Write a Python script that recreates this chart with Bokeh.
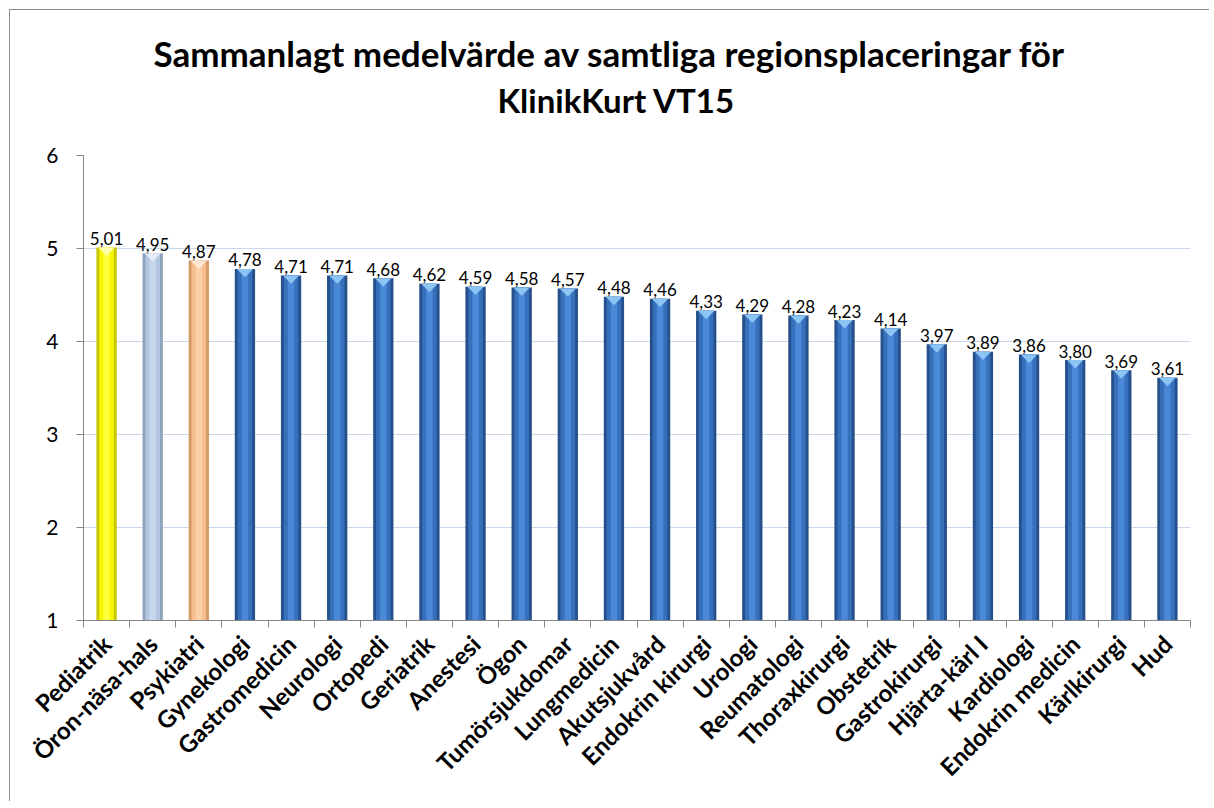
from bokeh.plotting import figure
from bokeh.models import FixedTicker, Range1d, Title, ColumnDataSource
from bokeh.core.properties import value
from bokeh.embed import file_html
from bokeh.resources import INLINE
import math

categories = ["Pediatrik", "Öron-näsa-hals", "Psykiatri", "Gynekologi", "Gastromedicin",
              "Neurologi", "Ortopedi", "Geriatrik", "Anestesi", "Ögon", "Tumörsjukdomar",
              "Lungmedicin", "Akutsjukvård", "Endokrin kirurgi", "Urologi", "Reumatologi",
              "Thoraxkirurgi", "Obstetrik", "Gastrokirurgi", "Hjärta-kärl I", "Kardiologi",
              "Endokrin medicin", "Kärlkirurgi", "Hud"]
values = [5.01, 4.95, 4.87, 4.78, 4.71, 4.71, 4.68, 4.62, 4.59, 4.58, 4.57, 4.48,
          4.46, 4.33, 4.29, 4.28, 4.23, 4.14, 3.97, 3.89, 3.86, 3.80, 3.69, 3.61]
y_ticks = [1, 2, 3, 4, 5, 6]
title_line1 = "Sammanlagt medelvärde av samtliga regionsplaceringar för"
title_line2 = "KlinikKurt VT15"

FONT = "Lato"
n = len(categories)
xs = [i + 0.5 for i in range(n)]
labels = [f"{v:.2f}".replace(".", ",") for v in values]

edge = ["#c9c400", "#8fa3bd", "#d39a68"] + ["#26508c"] * (n - 3)
base = ["#f5f500", "#b3c7e0", "#f7bd8d"] + ["#3670bb"] * (n - 3)
high = ["#ffff3a", "#c8d8ec", "#fbd0a8"] + ["#4a88d8"] * (n - 3)
cap = ["#ffffb0", "#e4edf8", "#fde6d2"] + ["#8cc4f4"] * (n - 3)

src = ColumnDataSource(dict(x=xs, top=values, label=labels, edge=edge, base=base,
                            high=high, cap=cap))

p = figure(width=1200, height=792, output_backend="svg", toolbar_location=None,
           x_range=Range1d(0, n), y_range=Range1d(1, 6),
           min_border_left=73, min_border_right=20, min_border_top=145,
           min_border_bottom=182)
p.styles = {"border-left": "1px solid #8c8c8c", "border-top": "1px solid #8c8c8c",
            "margin-left": "9px", "margin-top": "9px"}
p.outline_line_color = None
p.background_fill_color = "white"

bw = 0.44
p.vbar(x="x", top="top", bottom=1, width=bw, source=src, fill_color="edge", line_color=None)
p.vbar(x="x", top="top", bottom=1, width=bw * 0.72, source=src, fill_color="base", line_color=None)
p.vbar(x="x", top="top", bottom=1, width=bw * 0.32, source=src, fill_color="high", line_color=None)

cap_xs = [[x - bw * 0.4, x + bw * 0.4, x] for x in xs]
cap_ys = [[v, v, v - 0.09] for v in values]
p.patches(xs=cap_xs, ys=cap_ys, fill_color=cap, line_color=None)

p.text(x="x", y="top", text="label", source=src, text_align="center",
       text_baseline="alphabetic", y_offset=-9, text_font=value(FONT),
       text_font_size="17px", text_color="#000000")

p.yaxis.ticker = FixedTicker(ticks=y_ticks)
p.yaxis.axis_line_color = "#868686"
p.yaxis.major_tick_line_color = "#868686"
p.yaxis.major_tick_out = 7
p.yaxis.major_tick_in = 0
p.yaxis.minor_tick_line_color = None
p.yaxis.major_label_text_font = FONT
p.yaxis.major_label_text_font_size = "21px"
p.yaxis.major_label_text_color = "#000000"
p.yaxis.major_label_standoff = 18

p.xaxis.ticker = FixedTicker(ticks=xs, minor_ticks=list(range(n + 1)))
p.xaxis.major_label_overrides = {x: c for x, c in zip(xs, categories)}
p.xaxis.axis_line_color = "#868686"
p.xaxis.major_tick_line_color = None
p.xaxis.major_tick_out = 0
p.xaxis.major_tick_in = 0
p.xaxis.minor_tick_line_color = "#868686"
p.xaxis.minor_tick_out = 7
p.xaxis.minor_tick_in = 0
p.xaxis.major_label_orientation = math.pi / 4
p.xaxis.major_label_text_font = FONT
p.xaxis.major_label_text_font_style = "bold"
p.xaxis.major_label_text_font_size = "24px"
p.xaxis.major_label_text_color = "#000000"
p.xaxis.major_label_standoff = 12

p.xgrid.grid_line_color = None
p.ygrid.ticker = FixedTicker(ticks=y_ticks)
p.ygrid.grid_line_color = "#c9d8ec"

# spacer between plot frame and title block
p.add_layout(Title(text=" ", text_font_size="10px", standoff=21), "above")
p.add_layout(Title(text=title_line2, align="left", offset=414, text_font=FONT,
                   text_font_style="bold", text_font_size="33px", text_color="#000000",
                   standoff=4), "above")
p.add_layout(Title(text=title_line1, align="left", offset=70, text_font=FONT,
                   text_font_style="bold", text_font_size="35px", text_color="#000000",
                   standoff=4), "above")

open("out.html", "w").write(file_html(p, INLINE))
